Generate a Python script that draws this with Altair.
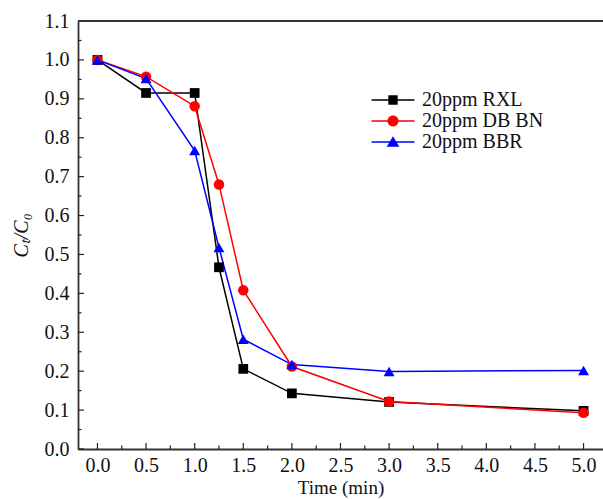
import altair as alt
import pandas as pd

# ---- data ----
time_min = [0.0, 0.5, 1.0, 1.25, 1.5, 2.0, 3.0, 5.0]
rxl = [1.0, 0.915, 0.915, 0.467, 0.206, 0.143, 0.121, 0.098]
dbbn = [1.0, 0.957, 0.881, 0.680, 0.408, 0.212, 0.122, 0.093]
bbr = [1.0, 0.952, 0.767, 0.518, 0.282, 0.217, 0.199, 0.202]
series_names = ["20ppm RXL", "20ppm DB BN", "20ppm BBR"]
series_colors = ["#000000", "#ff0000", "#0000ff"]
series_shapes = ["square", "circle", "triangle-up"]
series_sizes = [95, 110, 120]

x_major = [0.0, 0.5, 1.0, 1.5, 2.0, 2.5, 3.0, 3.5, 4.0, 4.5, 5.0]
x_minor = [0.25, 0.75, 1.25, 1.75, 2.25, 2.75, 3.25, 3.75, 4.25, 4.75]
y_major = [0.0, 0.1, 0.2, 0.3, 0.4, 0.5, 0.6, 0.7, 0.8, 0.9, 1.0, 1.1]
y_minor = [0.05, 0.15, 0.25, 0.35, 0.45, 0.55, 0.65, 0.75, 0.85, 0.95, 1.05]

rows = []
for name, vals in zip(series_names, [rxl, dbbn, bbr]):
    for t, v in zip(time_min, vals):
        rows.append({"series": name, "t": t, "c": v})
df = pd.DataFrame(rows)

W, H = 525, 428
FONT = "Liberation Serif"
TXT = "#111111"

xs = alt.Scale(domain=[-0.2, 5.2], nice=False, zero=False)
ys = alt.Scale(domain=[0, 1.1], nice=False)

# legend symbols: line segment + marker (filled paths)
leg_paths = [
    "M-3.9,-0.14H3.9V0.14H-3.9Z M-0.85,-0.85H0.85V0.85H-0.85Z",
    "M-3.9,-0.14H3.9V0.14H-3.9Z M1,0A1,1 0 1,1 -1,0A1,1 0 1,1 1,0Z",
    "M-3.9,-0.14H3.9V0.14H-3.9Z M0,-1.05L1.15,0.85H-1.15Z",
]

xaxis = alt.Axis(orient="bottom", values=x_major, format=".1f", ticks=False, grid=False,
                 labelOverlap=False, labelPadding=6, labelFont=FONT, labelFontSize=20,
                 labelColor=TXT, title="Time (min)", titlePadding=3, titleFont=FONT,
                 titleFontSize=19, titleColor=TXT, titleFontWeight="normal",
                 domainColor="#333", domainWidth=1.8)
yaxis = alt.Axis(orient="left", values=y_major, format=".1f", ticks=False, grid=False,
                 labelOverlap=False, labelPadding=9, labelFont=FONT, labelFontSize=20,
                 labelColor=TXT, title="Cₜ/C₀", titlePadding=13, titleFont=FONT,
                 titleFontSize=20, titleColor=TXT, titleFontWeight="normal",
                 titleFontStyle="italic", domainColor="#333", domainWidth=1.8)

base = alt.Chart(df)

layers = []
for name, col in zip(series_names, series_colors):
    layers.append(
        base.transform_filter(alt.datum.series == name).mark_line(color=col, strokeWidth=1.5).encode(
            x=alt.X("t:Q", scale=xs, axis=xaxis),
            y=alt.Y("c:Q", scale=ys, axis=yaxis),
            order=alt.Order("t:Q"),
        )
    )

for name, col, shp, sz in zip(series_names, series_colors, series_shapes, series_sizes):
    layers.append(
        base.transform_filter(alt.datum.series == name).mark_point(
            shape=shp, filled=True, size=sz, opacity=1, color=col
        ).encode(
            x=alt.X("t:Q", scale=xs, axis=xaxis),
            y=alt.Y("c:Q", scale=ys, axis=yaxis),
        )
    )

leg = alt.Legend(
    orient="none", legendX=305, legendY=69, title=None, padding=0,
    labelFont=FONT, labelFontSize=20, labelColor=TXT,
    labelOffset=19, rowPadding=1, symbolSize=121, symbolStrokeWidth=0,
    symbolOpacity=1,
)
legend_layer = base.transform_filter("false").mark_point(filled=True, size=121, opacity=1).encode(
    x=alt.X("t:Q", scale=xs, axis=xaxis),
    y=alt.Y("c:Q", scale=ys, axis=yaxis),
    color=alt.Color("series:N", scale=alt.Scale(domain=series_names, range=series_colors), legend=leg),
    shape=alt.Shape("series:N", scale=alt.Scale(domain=series_names, range=leg_paths), legend=leg),
)
layers.append(legend_layer)

tick_df_xmaj = pd.DataFrame({"v": x_major})
tick_df_xmin = pd.DataFrame({"v": x_minor})
tick_df_ymaj = pd.DataFrame({"v": y_major})
tick_df_ymin = pd.DataFrame({"v": y_minor})

layers += [
    alt.Chart(tick_df_xmaj).mark_rule(color="#222", strokeWidth=1.2).encode(
        x=alt.X("v:Q", scale=xs, axis=xaxis), y=alt.value(H), y2=alt.value(H - 6)),
    alt.Chart(tick_df_xmin).mark_rule(color="#222", strokeWidth=1.2).encode(
        x=alt.X("v:Q", scale=xs, axis=xaxis), y=alt.value(H), y2=alt.value(H - 3.5)),
    alt.Chart(tick_df_ymaj).mark_rule(color="#222", strokeWidth=1.2).encode(
        y=alt.Y("v:Q", scale=ys, axis=yaxis), x=alt.value(0), x2=alt.value(6)),
    alt.Chart(tick_df_ymin).mark_rule(color="#222", strokeWidth=1.2).encode(
        y=alt.Y("v:Q", scale=ys, axis=yaxis), x=alt.value(0), x2=alt.value(3.5)),
    # top frame line
    alt.Chart(tick_df_xmaj).mark_rule(color="#333", strokeWidth=1.8).encode(
        x=alt.value(0), x2=alt.value(W), y=alt.value(0)),
]

chart = alt.layer(*layers).properties(
    width=W, height=H,
    autosize=alt.AutoSizeParams(type="none"),
    padding={"left": 78, "top": 21, "right": 0, "bottom": 50},
).configure(font=FONT).configure_view(stroke=None).configure_axis(
    labelFont=FONT, labelFontSize=20, titleFont=FONT
)

chart.save("out.html", embed_options={"renderer": "svg", "actions": False})
